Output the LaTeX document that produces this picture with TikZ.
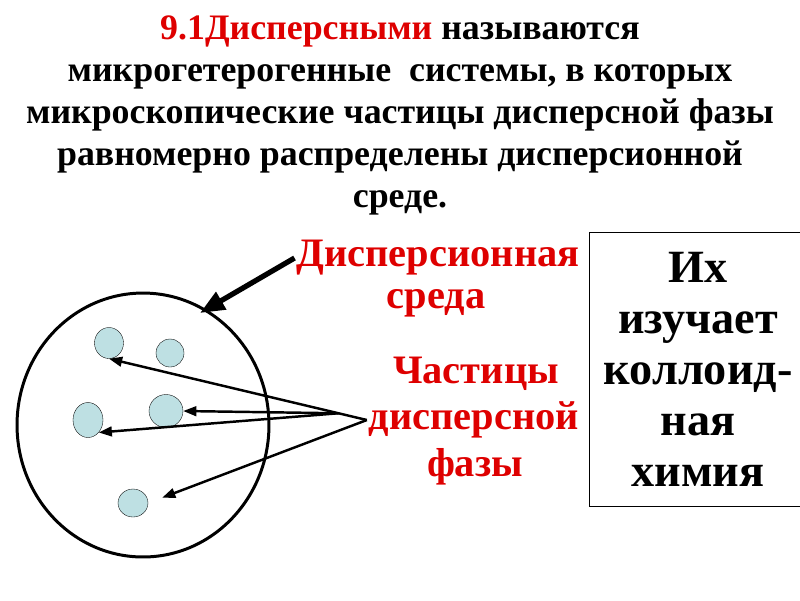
\documentclass[tikz,border=0pt]{standalone}
\usepackage{fontspec}
\setmainfont{Liberation Serif}[BoldFont={Liberation Serif Bold}]
\usepackage{xcolor}
\usetikzlibrary{arrows.meta,calc,positioning,shapes.geometric}
\definecolor{rd}{RGB}{222,0,0}
\definecolor{grain}{RGB}{190,224,227}

\begin{document}
\begin{tikzpicture}[x=0.02cm,y=-0.02cm,
    ttl/.style={font=\bfseries\fontsize{20.4}{23.9}\selectfont,align=center},
    lbl/.style={text=rd,font=\bfseries\fontsize{23}{26}\selectfont,inner sep=1pt},
    grn/.style={ellipse,draw,very thin,fill=grain,inner sep=0pt},
    ptr/.style={-{Triangle[length=7.5pt,width=5.5pt]},line width=1.4pt}]
    \useasboundingbox (0,0) rectangle (800,600);
    \node[ttl] (title) at (400,115) {\textcolor{rd}{9.1Дисперсными} называются\\
        микрогетерогенные\ \ системы, в которых\\
        микроскопические частицы дисперсной фазы\\
        равномерно распределены дисперсионной\\
        среде.};
    \node[ellipse,draw,line width=1.7pt,minimum width=5.04cm,minimum height=5.28cm] (medium) at (143,425) {};
    \node[grn,minimum width=0.58cm,minimum height=0.62cm] (g1) at (109,343) {};
    \node[grn,minimum width=0.56cm,minimum height=0.56cm] (g2) at (170,353) {};
    \node[grn,minimum width=0.6cm,minimum height=0.7cm] (g3) at (88,420) {};
    \node[grn,minimum width=0.68cm,minimum height=0.66cm] (g4) at (166,411) {};
    \node[grn,minimum width=0.6cm,minimum height=0.56cm] (g5) at (133,503) {};
    \node[lbl] (disp1) at (438,258) {Дисперсионная};
    \node[lbl] (disp2) at (436,303) {среда};
    \node[lbl] (part1) at (476,374) {Частицы};
    \node[lbl] (part2) at (474,420) {дисперсной};
    \node[lbl] (part3) at (475,467) {фазы};
    \node[draw,thin,minimum width=4.36cm,minimum height=5.48cm,align=center,
        font=\bfseries\fontsize{26.3}{29}\selectfont] (box) at (698,369)
        {Их\\изучает\\коллоид-\\ная\\химия};
    \coordinate (tgt) at (200,313);
    \coordinate (fork) at ($(part2.west)!0.11!(g1.south)$);
    \draw[-{Triangle[length=14pt,width=11pt]},line width=3pt] (disp1.west) -- (tgt);
    \draw[ptr] (part2.west) -- (g1.south);
    \draw[ptr] (fork) -- (g4.east);
    \draw[ptr] (fork) -- (g3.south east);
    \draw[ptr,shorten >=8.5pt] (part2.west) -- (g5.east);
\end{tikzpicture}
\end{document}
